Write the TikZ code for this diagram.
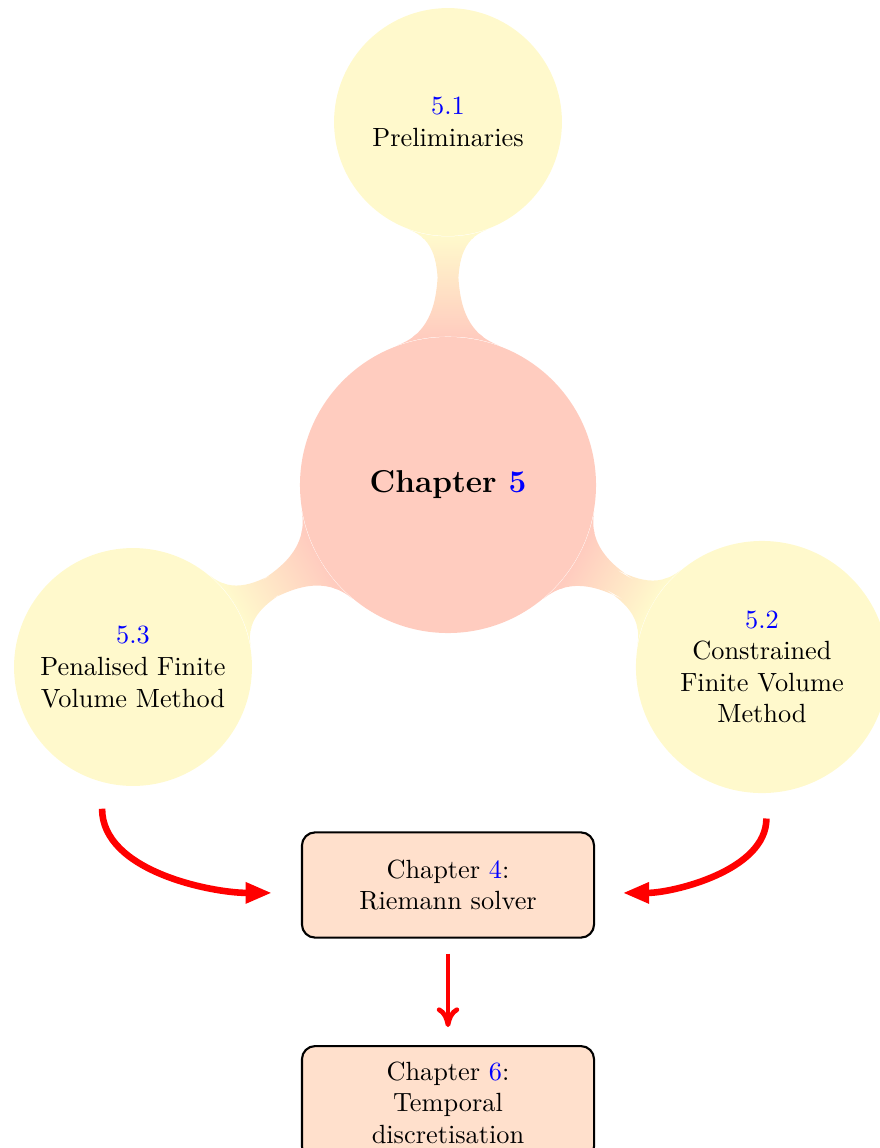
\documentclass[tikz,border=0pt]{standalone}
\usetikzlibrary{mindmap,arrows.meta}
\definecolor{rootcol}{RGB}{255,204,191}
\definecolor{leafcol}{RGB}{255,249,204}
\definecolor{boxcol}{RGB}{255,224,204}
\definecolor{numblue}{RGB}{0,0,255}
\hyphenpenalty=10000
\exhyphenpenalty=10000
\begin{document}
\begin{tikzpicture}[x=0.38pt,y=-0.38pt,
  topic/.style={circle, inner sep=0pt, align=center},
  rootnode/.style={topic, fill=rootcol, minimum size=112.5pt, font=\large\bfseries},
  leaf/.style={topic, fill=leafcol, text width=75pt},
  chapbox/.style={draw, thick, rounded corners=5pt, fill=boxcol, text width=99pt,
    align=center, inner sep=6pt, minimum height=40pt},
  flow/.style={red, line width=2.5pt, -{Triangle[length=10pt,width=7.5pt]}},
  drop/.style={red, line width=1.8pt, -{Computer Modern Rightarrow[length=7.5pt,width=8.5pt]}},
]
\useasboundingbox (0,0) rectangle (879,1148);

% concept circles
\node[rootnode] (c0) at (448,485) {Chapter \textcolor{numblue}{5}};
\node[leaf, minimum size=86.6pt] (c1) at (448,122) {\textcolor{numblue}{5.1}\\Preliminaries};
\node[leaf, minimum size=95.8pt] (c2) at (762,667) {\textcolor{numblue}{5.2}\\Constrained Finite Volume Method};
\node[leaf, minimum size=90.4pt] (c3) at (133,667) {\textcolor{numblue}{5.3}\\Penalised Finite Volume Method};

% connection bars between root and sections
\begin{scope}[mindmap]
\path (c0) to[circle connection bar switch color=from (rootcol) to (leafcol)] (c1);
\path (c0) to[circle connection bar switch color=from (rootcol) to (leafcol)] (c2);
\path (c0) to[circle connection bar switch color=from (rootcol) to (leafcol)] (c3);
\end{scope}

% chapter boxes
\node[chapbox] (ch4) at (448,885) {Chapter \textcolor{numblue}{4}:\\Riemann solver};
\node[chapbox, anchor=north] (ch6) at (448,1045) {Chapter \textcolor{numblue}{6}:\\Temporal discretisation};

% arrows
\draw[flow, shorten <=10pt, shorten >=11pt] (c3.255) to[out=-90,in=180] ([yshift=-3pt]ch4.west);
\draw[flow, shorten <=9.5pt, shorten >=10.5pt] (c2.272) to[out=-90,in=0] ([yshift=-3pt]ch4.east);
\draw[drop, shorten <=5.7pt, shorten >=6.8pt] (ch4) -- (ch6);
\end{tikzpicture}
\end{document}
